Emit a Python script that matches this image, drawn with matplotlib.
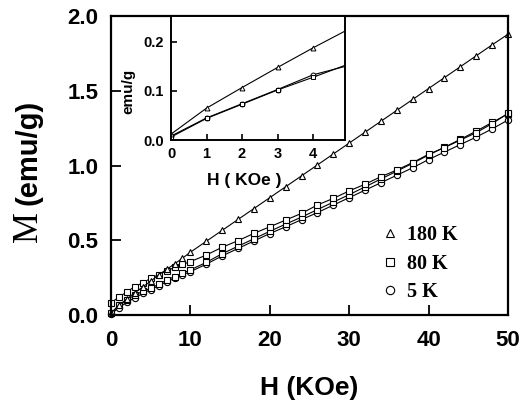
import matplotlib
matplotlib.use('Agg')
import matplotlib.pyplot as plt
from matplotlib.lines import Line2D

# field values (kOe)
H = [0, 1, 2, 3, 4, 5, 6, 7, 8, 9, 10,
     12, 14, 16, 18, 20, 22, 24, 26, 28, 30,
     32, 34, 36, 38, 40, 42, 44, 46, 48, 50]

# magnetization (emu/g)
m_180 = [0.012, 0.065, 0.107, 0.148, 0.188, 0.226, 0.268, 0.305, 0.342, 0.380, 0.420,
         0.493, 0.566, 0.639, 0.712, 0.785, 0.858, 0.931, 1.004, 1.077, 1.150,
         1.223, 1.296, 1.369, 1.442, 1.515, 1.588, 1.661, 1.734, 1.807, 1.878]
m_80_up = [0.082, 0.120, 0.155, 0.190, 0.215, 0.245, 0.270, 0.295, 0.318, 0.338, 0.357,
           0.401, 0.453, 0.497, 0.546, 0.590, 0.635, 0.680, 0.736, 0.780, 0.830,
           0.875, 0.925, 0.970, 1.020, 1.075, 1.120, 1.170, 1.220, 1.280, 1.349]
m_80_dn = [0.012, 0.065, 0.100, 0.134, 0.158, 0.180, 0.205, 0.234, 0.256, 0.280, 0.302,
           0.352, 0.410, 0.460, 0.510, 0.560, 0.608, 0.655, 0.705, 0.755, 0.805,
           0.857, 0.910, 0.962, 1.015, 1.070, 1.122, 1.175, 1.230, 1.288, 1.345]
m_5 = [0.005, 0.050, 0.085, 0.115, 0.145, 0.170, 0.195, 0.222, 0.245, 0.268, 0.290,
       0.340, 0.395, 0.445, 0.495, 0.545, 0.590, 0.638, 0.685, 0.735, 0.785,
       0.835, 0.885, 0.935, 0.985, 1.040, 1.090, 1.140, 1.190, 1.245, 1.304]

# inset (low field)
H_in = [0, 1, 2, 3, 4, 5]
in_180 = [0.012, 0.065, 0.107, 0.148, 0.188, 0.226]
in_80 = [0.006, 0.044, 0.073, 0.102, 0.128, 0.155]
in_5 = [0.008, 0.045, 0.074, 0.103, 0.133, 0.152]

sans = 'Liberation Sans'
serif = 'Liberation Serif'

fig = plt.figure(figsize=(5.23, 4.08), dpi=100)
ax = fig.add_axes([111/523, 93/408, 397/523, 299/408])

mk = dict(color='black', lw=0.8, mfc='white', mec='black', mew=0.8, clip_on=False)
ax.plot(H, m_5, marker='o', ms=4.5, **mk)
ax.plot(H, m_80_dn, marker='s', ms=4.5, **mk)
ax.plot(H, m_80_up, marker='s', ms=4.5, **mk)
ax.plot(H, m_180, marker='^', ms=5, **mk)

ax.set_xlim(0, 50)
ax.set_ylim(0, 2.0)
ax.set_xticks([0, 10, 20, 30, 40, 50])
ax.set_yticks([0, 0.5, 1.0, 1.5, 2.0])
ax.set_yticklabels(['0.0', '0.5', '1.0', '1.5', '2.0'])
ax.tick_params(direction='in', length=7, width=1.3, top=False, right=False)
ax.tick_params(axis='x', pad=11)
ax.tick_params(axis='y', pad=9)
for lab in ax.get_xticklabels() + ax.get_yticklabels():
    lab.set_fontfamily(sans)
    lab.set_fontweight('bold')
    lab.set_fontsize(16)
for s in ax.spines.values():
    s.set_linewidth(1.6)

ax.set_xlabel('H (KOe)', fontfamily=sans, fontweight='bold', fontsize=19)
ax.xaxis.set_label_coords(0.5, -0.205)
fig.text(28/523, 1 - 152/408, '(emu/g)', rotation=90, ha='center', va='center',
         fontfamily=sans, fontweight='bold', fontsize=21)
fig.text(28/523, 1 - 227/408, 'M', rotation=90, ha='center', va='center',
         fontfamily=serif, fontsize=25)

handles = [Line2D([], [], ls='none', marker='^', ms=6, mfc='white', mec='black', mew=0.8),
           Line2D([], [], ls='none', marker='s', ms=5.5, mfc='white', mec='black', mew=0.8),
           Line2D([], [], ls='none', marker='o', ms=6, mfc='white', mec='black', mew=0.8)]
ax.legend(handles, ['180 K', '80 K', '5 K'], loc='lower left', bbox_to_anchor=(0.632, -0.018),
          frameon=False, handlelength=1.0, handletextpad=0.35, labelspacing=0.42,
          prop=dict(family=serif, weight='bold', size=14.5))

# inset
axi = fig.add_axes([171/523, 268/408, 174/523, 124/408])
mi = dict(color='black', lw=0.8, mfc='white', mec='black', mew=0.7)
axi.plot(H_in, in_5, marker='o', ms=3.5, **mi)
axi.plot(H_in, in_80, marker='s', ms=3.5, **mi)
axi.plot(H_in, in_180, marker='^', ms=3.5, **mi)
axi.set_xlim(0, 4.9)
axi.set_ylim(0, 0.253)
axi.set_xticks([0, 1, 2, 3, 4])
axi.set_yticks([0, 0.1, 0.2])
axi.set_yticklabels(['0.0', '0.1', '0.2'])
axi.tick_params(direction='in', length=4, width=1.2, top=False, right=False, pad=5)
for lab in axi.get_xticklabels() + axi.get_yticklabels():
    lab.set_fontfamily(sans)
    lab.set_fontweight('bold')
    lab.set_fontsize(10.5)
for s in axi.spines.values():
    s.set_linewidth(1.4)
axi.set_xlabel('H ( KOe )', fontfamily=sans, fontweight='bold', fontsize=12.5)
axi.xaxis.set_label_coords(0.42, -0.27)
axi.set_ylabel('emu/g', fontfamily=sans, fontweight='bold', fontsize=11)
axi.yaxis.set_label_coords(-0.205, 0.39)

fig.savefig('out.png', dpi=100)
